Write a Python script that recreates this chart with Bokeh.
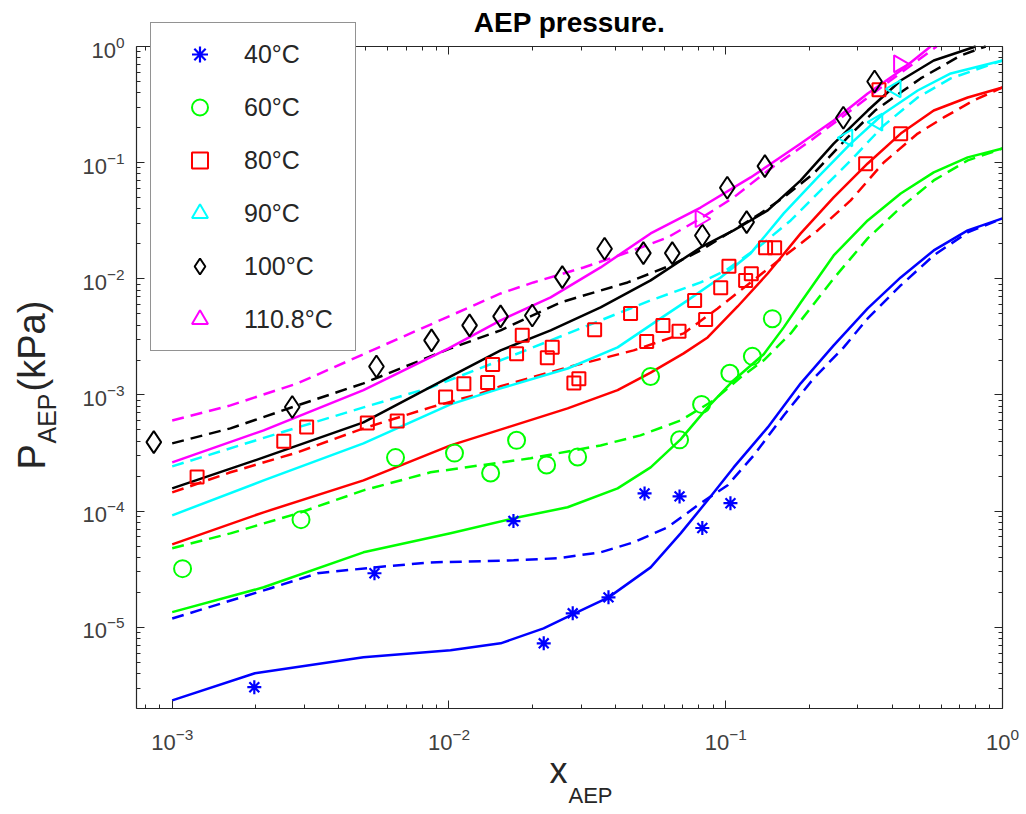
import math
from bokeh.plotting import figure
from bokeh.models import (Range1d, FixedTicker, LogAxis, Legend, LegendItem, Label,
                          CustomJSTickFormatter)
from bokeh.embed import file_html
from bokeh.resources import INLINE

# ---------------- experimental data ----------------
exp40_x = [0.00198, 0.00538, 0.0171, 0.0220, 0.0280, 0.0377, 0.0509, 0.0681, 0.0823, 0.104]
exp40_y = [3.05e-6, 2.92e-5, 8.22e-5, 7.28e-6, 1.32e-5, 1.81e-5, 1.42e-4, 1.34e-4, 7.16e-5, 1.17e-4]

exp60_x = [0.00109, 0.00292, 0.00641, 0.01047, 0.01414, 0.01755, 0.02253, 0.02916,
           0.0535, 0.0681, 0.0818, 0.1035, 0.1248, 0.1474]
exp60_y = [3.20e-5, 8.45e-5, 2.89e-4, 3.16e-4, 2.13e-4, 4.07e-4, 2.50e-4, 2.93e-4,
           1.445e-3, 4.11e-4, 8.30e-4, 1.54e-3, 2.15e-3, 4.54e-3]

exp80_x = [0.00123, 0.00253, 0.00306, 0.00507, 0.00650, 0.00972, 0.01132, 0.01379, 0.01438,
           0.01755, 0.0184, 0.02266, 0.02361, 0.02827, 0.02947, 0.0336, 0.0453, 0.0518,
           0.0593, 0.0678, 0.0772, 0.0846, 0.0959, 0.1027, 0.118, 0.1237, 0.1393, 0.1502,
           0.3203, 0.3578, 0.4286]
exp80_y = [1.965e-4, 3.99e-4, 5.29e-4, 5.73e-4, 5.96e-4, 9.59e-4, 1.25e-3, 1.28e-3, 1.83e-3,
           2.27e-3, 3.26e-3, 2.09e-3, 2.58e-3, 1.27e-3, 1.38e-3, 3.65e-3, 5.04e-3, 2.89e-3,
           3.97e-3, 3.53e-3, 6.52e-3, 4.47e-3, 8.38e-3, 1.286e-2, 9.69e-3, 1.106e-2, 1.852e-2,
           1.852e-2, 0.0978, 0.424, 0.1773]

exp90_x = [0.275, 0.353, 0.411]
exp90_y = [0.1637, 0.223, 0.4325]

exp100_x = [0.000858, 0.002715, 0.00547, 0.00865, 0.01187, 0.01536, 0.0200, 0.02567, 0.0365,
            0.0504, 0.0641, 0.0823, 0.1013, 0.119, 0.1385, 0.266, 0.345]
exp100_y = [3.93e-4, 7.87e-4, 1.76e-3, 2.95e-3, 3.97e-3, 4.75e-3, 4.84e-3, 0.01034, 0.01815,
            0.01664, 0.01664, 0.02363, 0.0608, 0.0308, 0.0933, 0.2434, 0.500]

exp110_x = [0.0811, 0.4227]
exp110_y = [0.0329, 0.710]

# ---------------- model curves (solid / dashed) ----------------
blue_solid_x = [0.001, 0.00199, 0.00491, 0.01013, 0.01537, 0.02197, 0.02797, 0.03774, 0.05354,
                0.06871, 0.08602, 0.1068, 0.1418, 0.1866, 0.2455, 0.3258, 0.4287, 0.5643, 0.7486, 1.0]
blue_solid_y = [2.35e-6, 4.02e-6, 5.52e-6, 6.34e-6, 7.28e-6, 9.80e-6, 1.29e-5, 1.81e-5, 3.28e-5,
                6.44e-5, 1.24e-4, 2.38e-4, 5.26e-4, 1.26e-3, 2.67e-3, 5.56e-3, 1.028e-2, 1.755e-2,
                2.61e-2, 3.31e-2]
blue_dash_x = [0.001, 0.00227, 0.00335, 0.00538, 0.00858, 0.01712, 0.02469, 0.03531, 0.04647,
               0.06167, 0.08114, 0.1016, 0.1262, 0.162, 0.2079, 0.2668, 0.3258, 0.4287, 0.5643,
               0.7486, 1.0]
blue_dash_y = [1.19e-5, 2.17e-5, 2.92e-5, 3.28e-5, 3.62e-5, 3.77e-5, 3.93e-5, 4.42e-5, 5.39e-5,
               7.26e-5, 1.17e-4, 1.67e-4, 3.02e-4, 6.67e-4, 1.39e-3, 2.57e-3, 4.56e-3, 8.77e-3,
               1.59e-2, 2.51e-2, 3.31e-2]

green_solid_x = [0.001, 0.00214, 0.00491, 0.01013, 0.01712, 0.02683, 0.04068, 0.05354, 0.06871,
                 0.08602, 0.1068, 0.1372, 0.162, 0.1866, 0.2455, 0.3258, 0.4287, 0.5643, 0.7486, 1.0]
green_solid_y = [1.35e-5, 2.21e-5, 4.42e-5, 6.44e-5, 8.67e-5, 1.08e-4, 1.57e-4, 2.38e-4, 4.15e-4,
                 7.82e-4, 1.34e-3, 2.24e-3, 3.82e-3, 6.26e-3, 1.59e-2, 3.18e-2, 5.43e-2, 8.24e-2,
                 0.111, 0.1325]
green_dash_x = [0.001, 0.001624, 0.00284, 0.00491, 0.00858, 0.0130, 0.01972, 0.03531, 0.0492,
                0.06871, 0.09044, 0.1132, 0.1372, 0.1717, 0.2455, 0.3258, 0.4287, 0.5643, 0.7486, 1.0]
green_dash_y = [4.79e-5, 6.44e-5, 9.57e-5, 1.51e-4, 2.16e-4, 2.48e-4, 2.85e-4, 3.68e-4, 4.49e-4,
                6.04e-4, 8.99e-4, 1.42e-3, 1.99e-3, 3.39e-3, 1.008e-2, 2.23e-2, 4.11e-2, 7.03e-2,
                0.1045, 0.1325]

red_solid_x = [0.001, 0.00214, 0.00491, 0.01013, 0.01628, 0.02683, 0.04068, 0.05354, 0.07046,
               0.08602, 0.1104, 0.1418, 0.1866, 0.2455, 0.3258, 0.4287, 0.5643, 0.7486, 1.0]
red_solid_y = [5.18e-5, 9.77e-5, 1.84e-4, 3.68e-4, 5.26e-4, 7.67e-4, 1.10e-3, 1.56e-3, 2.28e-3,
               3.13e-3, 5.78e-3, 1.112e-2, 2.46e-2, 5.02e-2, 9.84e-2, 0.178, 0.281, 0.364, 0.444]
red_dash_x = [0.001, 0.001624, 0.00284, 0.00491, 0.00858, 0.0130, 0.01537, 0.02683, 0.04647,
              0.07046, 0.0935, 0.1230, 0.1674, 0.2149, 0.2828, 0.3722, 0.4939, 0.6133, 0.7869, 1.0]
red_dash_y = [1.45e-4, 2.16e-4, 3.21e-4, 5.16e-4, 7.82e-4, 1.03e-3, 1.19e-3, 1.73e-3, 2.42e-3,
              3.39e-3, 5.56e-3, 9.31e-3, 1.655e-2, 2.61e-2, 4.73e-2, 0.1004, 0.178, 0.245, 0.343, 0.444]

cyan_solid_x = [0.001, 0.00214, 0.00491, 0.01013, 0.01537, 0.02683, 0.04068, 0.05674, 0.0728,
                0.09585, 0.1230, 0.1620, 0.2149, 0.2828, 0.3722, 0.4939, 0.6500, 1.0]
cyan_solid_y = [9.20e-5, 1.84e-4, 3.83e-4, 8.30e-4, 1.14e-3, 1.69e-3, 2.57e-3, 4.39e-3, 6.52e-3,
                1.028e-2, 1.655e-2, 3.66e-2, 7.46e-2, 0.146, 0.265, 0.418, 0.586, 0.758]
cyan_dash_x = [0.001, 0.00284, 0.00491, 0.00858, 0.01537, 0.0233, 0.03531, 0.05354, 0.08114,
               0.1, 0.1337, 0.1717, 0.2203, 0.2828, 0.3722, 0.4939, 0.6500, 1.0]
cyan_dash_y = [2.43e-4, 5.26e-4, 7.82e-4, 1.16e-3, 1.99e-3, 2.95e-3, 4.39e-3, 6.52e-3, 9.31e-3,
               1.18e-2, 1.94e-2, 3.18e-2, 5.77e-2, 0.1045, 0.209, 0.364, 0.531, 0.758]

black_solid_x = [0.001, 0.00214, 0.00491, 0.00956, 0.01537, 0.0233, 0.03531, 0.05354, 0.08114,
                 0.1068, 0.1418, 0.1866, 0.2455, 0.3258, 0.4287, 0.5643, 0.800]
black_solid_y = [1.57e-4, 2.90e-4, 5.81e-4, 1.34e-3, 2.42e-3, 3.60e-3, 5.67e-3, 9.69e-3, 1.862e-2,
                 2.61e-2, 3.88e-2, 7.03e-2, 0.146, 0.281, 0.510, 0.758, 1.0]
black_dash_x = [0.001, 0.001624, 0.00284, 0.00491, 0.01013, 0.01537, 0.0253, 0.0442, 0.0632,
                0.08114, 0.1337, 0.162, 0.2079, 0.2758, 0.3462, 0.506, 0.706, 0.8696]
black_dash_y = [3.83e-4, 5.16e-4, 8.14e-4, 1.26e-3, 2.52e-3, 3.60e-3, 6.26e-3, 9.31e-3, 1.303e-2,
                1.755e-2, 3.66e-2, 5.02e-2, 8.07e-2, 0.165, 0.281, 0.531, 0.837, 1.0]

magenta_solid_x = [0.001, 0.00214, 0.00491, 0.00997, 0.01537, 0.0233, 0.03531, 0.05354, 0.08114,
                   0.1230, 0.1866, 0.2455, 0.3258, 0.4287, 0.550]
magenta_solid_y = [2.63e-4, 4.96e-4, 1.10e-3, 2.52e-3, 4.39e-3, 6.92e-3, 1.253e-2, 2.46e-2, 4.11e-2,
                   7.46e-2, 0.146, 0.231, 0.394, 0.621, 1.0]
magenta_dash_x = [0.001, 0.001624, 0.00284, 0.01537, 0.0202, 0.03065, 0.0442, 0.06167, 0.08114,
                  0.1068, 0.1421, 0.2028, 0.2828, 0.3722, 0.4939, 0.578]
magenta_dash_y = [6.04e-4, 8.14e-4, 1.26e-3, 7.48e-3, 9.31e-3, 1.253e-2, 1.687e-2, 2.27e-2, 3.31e-2,
                  5.02e-2, 8.57e-2, 0.155, 0.281, 0.462, 0.758, 1.0]

legend_labels = ["40°C", "60°C", "80°C", "90°C", "100°C", "110.8°C"]
x_major = [1e-3, 1e-2, 1e-1, 1e0]
y_major = [1e-5, 1e-4, 1e-3, 1e-2, 1e-1, 1e0]
X_LO, X_HI = 7.43e-4, 1.0
Y_LO, Y_HI = 2.0e-6, 1.0

# ---------------- layout (pixels) ----------------
W, H = 1026, 814
BL, BR, BT, BB = 136, 1002, 46, 708      # plot box edges on the canvas
dx = (BR - BL) / (math.log10(X_HI) - math.log10(X_LO))
dy = (BB - BT) / (math.log10(Y_HI) - math.log10(Y_LO))
x_start = 10 ** (math.log10(X_LO) - BL / dx)
x_end = 10 ** (math.log10(X_HI) + (W - BR) / dx)
y_start = 10 ** (math.log10(Y_LO) - (H - BB) / dy)
y_end = 10 ** (math.log10(Y_HI) + BT / dy)

AX = "#262626"
FONT = "Liberation Sans"

p = figure(width=W, height=H, x_axis_type="log", y_axis_type="log",
           x_range=Range1d(x_start, x_end), y_range=Range1d(y_start, y_end),
           x_axis_location=None, y_axis_location=None,
           output_backend="svg", toolbar_location=None,
           min_border_left=0, min_border_right=0, min_border_top=0, min_border_bottom=0)
p.title.visible = False
p.xgrid.visible = False
p.ygrid.visible = False
p.outline_line_color = None
p.background_fill_color = "white"
p.border_fill_color = "white"

x_minor = [m * 10.0 ** e for e in range(-4, 0) for m in range(2, 10)
           if X_LO <= m * 10.0 ** e <= X_HI]
y_minor = [m * 10.0 ** e for e in range(-6, 0) for m in range(2, 10)
           if Y_LO <= m * 10.0 ** e <= Y_HI]
xt = FixedTicker(ticks=x_major, minor_ticks=x_minor)
yt = FixedTicker(ticks=y_major, minor_ticks=y_minor)


def make_axis(ticker, loc, bounds, labels):
    ax = LogAxis(ticker=ticker, fixed_location=loc, bounds=bounds,
                 axis_line_color=AX, axis_line_width=1.2,
                 major_tick_line_color=AX, minor_tick_line_color=AX,
                 major_tick_in=8, major_tick_out=0, minor_tick_in=4, minor_tick_out=0)
    if labels:
        ax.major_label_text_font = FONT
        ax.major_label_text_font_size = "22px"
        ax.major_label_text_color = "#404040"
    else:
        ax.formatter = CustomJSTickFormatter(code="return ''")
    return ax


bottom_ax = make_axis(xt, Y_LO, (X_LO, X_HI), True)
bottom_ax.major_label_standoff = 19
p.add_layout(bottom_ax, "below")
left_ax = make_axis(yt, X_LO, (Y_LO, Y_HI), True)
left_ax.major_label_standoff = 12
p.add_layout(left_ax, "left")
p.add_layout(make_axis(xt, Y_HI, (X_LO, X_HI), False), "above")
p.add_layout(make_axis(yt, X_HI, (Y_LO, Y_HI), False), "right")

# ---------------- model lines ----------------
LW = 2.5
DASH = "12 7"
curves = [
    (blue_solid_x, blue_solid_y, "#0000ff", "solid"), (blue_dash_x, blue_dash_y, "#0000ff", DASH),
    (green_solid_x, green_solid_y, "#00ff00", "solid"), (green_dash_x, green_dash_y, "#00ff00", DASH),
    (red_solid_x, red_solid_y, "#ff0000", "solid"), (red_dash_x, red_dash_y, "#ff0000", DASH),
    (cyan_solid_x, cyan_solid_y, "#00ffff", "solid"), (cyan_dash_x, cyan_dash_y, "#00ffff", DASH),
    (black_solid_x, black_solid_y, "#000000", "solid"), (black_dash_x, black_dash_y, "#000000", DASH),
    (magenta_solid_x, magenta_solid_y, "#ff00ff", "solid"),
    (magenta_dash_x, magenta_dash_y, "#ff00ff", DASH),
]
for xs, ys, c, d in curves:
    p.line(xs, ys, line_color=c, line_width=LW, line_dash=d, line_join="round")

# ---------------- experimental points ----------------
r40 = p.scatter(exp40_x, exp40_y, marker="asterisk", size=14, line_color="#0000ff", line_width=2.2)
r60 = p.scatter(exp60_x, exp60_y, marker="circle", size=17, fill_color=None,
                line_color="#00ff00", line_width=2)
r80 = p.scatter(exp80_x, exp80_y, marker="square", size=13, fill_color=None,
                line_color="#ff0000", line_width=2)
r90 = p.scatter(exp90_x, exp90_y, marker="triangle", angle=math.pi / 2, size=17, fill_color=None,
                line_color="#00ffff", line_width=2)
r100 = p.scatter(exp100_x, exp100_y, marker="diamond", size=22, fill_color=None,
                 line_color="#000000", line_width=2)
r110 = p.scatter(exp110_x, exp110_y, marker="triangle", angle=-math.pi / 2, size=17, fill_color=None,
                 line_color="#ff00ff", line_width=2)

items = [LegendItem(label=lab, renderers=[r]) for lab, r in
         zip(legend_labels, [r40, r60, r80, r90, r100, r110])]
legend = Legend(items=items, location=(150, H - 351), margin=0,
                label_text_font=FONT, label_text_font_size="25px", label_text_color=AX,
                border_line_color=AX, border_line_width=1,
                background_fill_color="white", background_fill_alpha=1.0,
                glyph_width=75, glyph_height=40, label_height=40, label_width=100,
                label_standoff=7, spacing=13, padding=11)
p.add_layout(legend, "center")


# ---------------- texts (canvas pixel positions -> frame screen units) ----------------
def label(text, cx, cy, size, align="left", angle=0.0, bold=False, color=AX):
    p.add_layout(Label(x=cx, y=H - cy, x_units="screen", y_units="screen", text=text,
                       text_font=FONT, text_font_size=size,
                       text_font_style="bold" if bold else "normal",
                       text_align=align, text_baseline="middle", angle=angle,
                       text_color=color))


label("AEP pressure.", 569, 22, "28px", align="center", bold=True, color="black")
label("x", 567, 770, "36px", align="right")
label("AEP", 568, 795, "22px")
label("P", 31, 469, "38px", angle=math.pi / 2)
label("AEP", 46, 443, "25px", angle=math.pi / 2)
label("(kPa)", 31, 391, "38px", angle=math.pi / 2)

open("out.html", "w").write(file_html(p, INLINE))
